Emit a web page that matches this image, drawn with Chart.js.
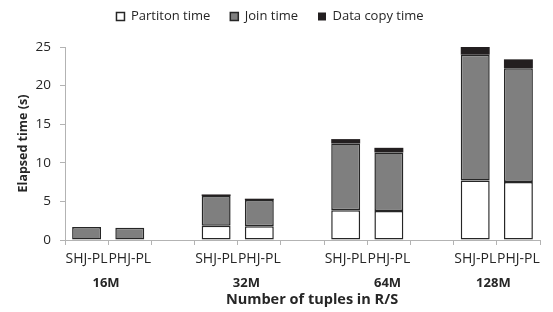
<!DOCTYPE html>
<html>
<head>
<meta charset="utf-8">
<script src="https://cdn.jsdelivr.net/npm/chart.js@4/dist/chart.umd.min.js"></script>
<style>
  html, body { margin: 0; padding: 0; background: #fff; }
  #wrap { width: 553px; height: 312px; }
</style>
</head>
<body>
<div id="wrap"><canvas id="chart" width="553" height="312"></canvas></div>
<script>
// categories: two joins per size, blank slot between groups
const categories = ['SHJ-PL', 'PHJ-PL', '', 'SHJ-PL', 'PHJ-PL', '', 'SHJ-PL', 'PHJ-PL', '', 'SHJ-PL', 'PHJ-PL'];
const groups = ['16M', '32M', '64M', '128M'];

const partitionTime = [null, null, null, 1.85, 1.77, null, 3.84, 3.75, null, 7.72, 7.5];
const joinTime = [1.7, 1.6, null, 3.85, 3.4, null, 8.66, 7.59, null, 16.28, 14.75];
const copyTime = [null, null, null, 0.2, 0.18, null, 0.57, 0.6, null, 1.0, 1.15];

const yTicks = [0, 5, 10, 15, 20, 25];

const FONT = "'Open Sans', sans-serif";
const TXT = '#262626';

// legend box taller than its content, so the plot starts lower
const legendGap = {
    id: 'legendGap',
    afterInit(chart) {
        const lg = chart.legend;
        const fit = lg.fit;
        lg.fit = function () {
            fit.call(this);
            this.height = 57;
        };
    }
};

// group names and axis title under the tick labels
// (the original puts them a bit off the pair centres)
const groupShift = [-0.05, 0.2, 0.47, -0.08];
const groupLabels = {
    id: 'groupLabels',
    afterDraw(chart) {
        const ctx = chart.ctx;
        const x = chart.scales.x;
        ctx.save();
        ctx.fillStyle = TXT;
        ctx.textAlign = 'center';
        ctx.textBaseline = 'middle';
        ctx.font = 'bold 13px ' + FONT;
        groups.forEach((g, i) => {
            ctx.fillText(g, x.getPixelForValue(i * 3 + 0.5 + groupShift[i]), 283);
        });
        ctx.font = 'bold 14.5px ' + FONT;
        ctx.fillText('Number of tuples in R/S', 312, 300);
        ctx.restore();
    }
};

const seg = {
    borderColor: '#262626',
    borderWidth: 1.5,
    borderSkipped: false,
    inflateAmount: 0,
    categoryPercentage: 1.0,
    barPercentage: 0.67
};

new Chart(document.getElementById('chart'), {
    type: 'bar',
    data: {
        labels: categories,
        datasets: [
            Object.assign({ label: 'Partiton time', data: partitionTime, backgroundColor: '#ffffff' }, seg),
            Object.assign({ label: 'Join time', data: joinTime, backgroundColor: '#7f7f7f' }, seg),
            Object.assign({}, seg, { label: 'Data copy time', data: copyTime, backgroundColor: '#231f20', borderColor: '#231f20', borderWidth: 0 })
        ]
    },
    options: {
        responsive: false,
        animation: false,
        layout: { padding: { top: -10, left: 0, right: 13, bottom: 0 } },
        plugins: {
            legend: {
                position: 'top',
                labels: {
                    boxWidth: 8,
                    boxHeight: 8,
                    padding: 20,
                    color: TXT,
                    font: { family: FONT, size: 13 }
                }
            },
            tooltip: { enabled: false }
        },
        scales: {
            x: {
                stacked: true,
                afterFit(s) { s.height = 72; },
                grid: { display: true, drawOnChartArea: false, drawTicks: true, tickLength: 5, color: '#b3b3b3', offset: true },
                border: { color: '#b3b3b3' },
                ticks: {
                    autoSkip: false, maxRotation: 0, minRotation: 0, padding: 6,
                    color: TXT, font: { family: FONT, size: 14 }
                }
            },
            y: {
                stacked: true,
                min: 0,
                max: 25,
                afterFit(s) { s.width = 65; },
                afterBuildTicks(s) { s.ticks = yTicks.map(v => ({ value: v })); },
                grid: { display: true, drawOnChartArea: false, drawTicks: true, tickLength: 5, color: '#b3b3b3' },
                border: { color: '#b3b3b3' },
                ticks: { padding: 9, color: TXT, font: { family: FONT, size: 13.5 } },
                title: {
                    display: true,
                    text: 'Elapsed time (s)',
                    color: TXT,
                    font: { family: FONT, size: 12.5, weight: 'bold' },
                    padding: { top: 16, bottom: 0 }
                }
            }
        }
    },
    plugins: [legendGap, groupLabels]
});
</script>
</body>
</html>
